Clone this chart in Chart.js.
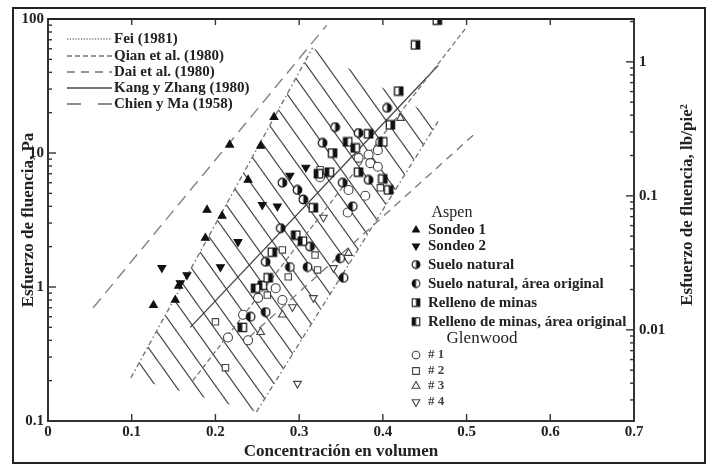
<!DOCTYPE html>
<html>
<head>
<meta charset="utf-8">
<script src="https://cdn.jsdelivr.net/npm/chart.js@4.4.1/dist/chart.umd.min.js"></script>
<style>
  body { margin: 0; background: #fff; }
  #wrap { width: 712px; height: 466px; }
</style>
</head>
<body>
<div id="wrap"><canvas id="myChart" width="712" height="466"></canvas></div>
<script>
// ---- ejes ----
const xTicks = [0, 0.1, 0.2, 0.3, 0.4, 0.5, 0.6, 0.7];
const yTicksPa = [0.1, 1, 10, 100];
const yTicksLb = [0.01, 0.1, 1];
const PA_PER_LB = 47.88;

// ---- Aspen ----
const sondeo1X = [0.126, 0.152, 0.156, 0.188, 0.190, 0.208, 0.217, 0.239, 0.254, 0.270];
const sondeo1Y = [0.73, 0.80, 1.02, 2.32, 3.76, 3.39, 11.5, 6.3, 11.3, 18.5];
const sondeo2X = [0.136, 0.158, 0.166, 0.206, 0.227, 0.256, 0.274, 0.289, 0.308];
const sondeo2Y = [1.39, 1.07, 1.23, 1.41, 2.17, 4.1, 4.0, 6.8, 7.8];
const sueloX = [0.343, 0.328, 0.371, 0.280, 0.298, 0.305, 0.352, 0.383, 0.278, 0.405, 0.260, 0.313];
const sueloY = [15.6, 11.9, 14.1, 6.0, 5.3, 4.5, 6.0, 6.3, 2.75, 21.7, 1.54, 2.0];
const sueloOrigX = [0.364, 0.289, 0.310, 0.260, 0.242, 0.349, 0.353];
const sueloOrigY = [4.0, 1.41, 1.41, 0.65, 0.60, 1.64, 1.17];
const rellenoX = [0.465, 0.439, 0.419, 0.409, 0.383, 0.340, 0.371, 0.400, 0.407, 0.317, 0.268, 0.263];
const rellenoY = [98, 64, 29, 16.2, 13.9, 10.0, 7.2, 6.4, 5.3, 3.9, 1.82, 1.17];
const rellenoOrigX = [0.400, 0.358, 0.367, 0.336, 0.296, 0.304, 0.256, 0.248, 0.232, 0.323];
const rellenoOrigY = [12.1, 12.1, 10.9, 7.2, 2.44, 2.2, 1.03, 0.98, 0.50, 7.0];

// ---- Glenwood ----
const glen1X = [0.233, 0.215, 0.239, 0.251, 0.272, 0.280, 0.371, 0.383, 0.394, 0.397, 0.385, 0.394, 0.359, 0.379, 0.358, 0.325];
const glen1Y = [0.62, 0.42, 0.40, 0.83, 0.98, 0.80, 9.2, 9.7, 10.5, 12.1, 8.4, 7.9, 5.3, 4.8, 3.6, 6.6];
const glen2X = [0.200, 0.212, 0.262, 0.287, 0.319, 0.322, 0.280, 0.325, 0.397];
const glen2Y = [0.55, 0.25, 0.87, 1.19, 1.73, 1.34, 1.89, 7.5, 5.5];
const glen3X = [0.254, 0.280, 0.359, 0.421];
const glen3Y = [0.46, 0.62, 1.79, 18.2];
const glen4X = [0.298, 0.292, 0.317, 0.341, 0.329];
const glen4Y = [0.19, 0.71, 0.83, 1.39, 3.3];

// ---- relaciones publicadas ----
const feiX = [0.099, 0.316];
const feiY = [0.21, 61];
const feiRightX = [0.249, 0.467];
const feiRightY = [0.117, 17.6];
const qianX = [0.173, 0.500];
const qianY = [0.20, 87];
const daiX = [0.240, 0.508];
const daiY = [0.42, 13.6];
const kangX = [0.170, 0.466];
const kangY = [0.50, 45];
const chienX = [0.054, 0.333];
const chienY = [0.70, 90];

// zona rayada
const hatchX = [0.099, 0.316, 0.467, 0.249];
const hatchY = [0.21, 61, 17.6, 0.117];

const FONT = '"Liberation Serif", "DejaVu Serif", serif';
const ctx = document.getElementById('myChart').getContext('2d');

const pts = (xs, ys) => xs.map((x, i) => ({ x: x, y: ys[i] }));

function halfMarker(shape, side) {
  const c = document.createElement('canvas');
  c.width = 11; c.height = 11;
  const g = c.getContext('2d');
  const path = () => {
    g.beginPath();
    if (shape === 'circle') g.arc(5.5, 5.5, 4.3, 0, Math.PI * 2);
    else g.rect(1.3, 1.3, 8.4, 8.4);
  };
  g.fillStyle = '#fff'; path(); g.fill();
  g.save(); path(); g.clip();
  g.fillStyle = '#111';
  if (side === 'right') g.fillRect(5.5, 0, 6, 11); else g.fillRect(0, 0, 5.5, 11);
  g.restore();
  g.strokeStyle = '#111'; g.lineWidth = 1.2; path(); g.stroke();
  return c;
}

function hatchPattern() {
  const c = document.createElement('canvas');
  c.width = 20; c.height = 28;
  const g = c.getContext('2d');
  g.strokeStyle = '#4a4a4a'; g.lineWidth = 1.3;
  g.beginPath();
  [-20, 0, 20].forEach(dx => { g.moveTo(dx, 0); g.lineTo(dx + 20, 28); });
  g.stroke();
  return ctx.createPattern(c, 'repeat');
}

function pointSet(label, xs, ys, style, fill, rot) {
  return {
    type: 'scatter', label: label, data: pts(xs, ys),
    pointStyle: style, pointRotation: rot || 0, pointRadius: 4.5,
    pointBackgroundColor: fill, pointBorderColor: fill === '#fff' ? '#444' : '#111',
    pointBorderWidth: 1.1, order: 0
  };
}
function lineSet(label, xs, ys, dash, color, width) {
  return {
    type: 'line', label: label, data: pts(xs, ys), borderColor: color,
    borderWidth: width, borderDash: dash, pointRadius: 0, fill: false, order: 5
  };
}

const lineSets = [
  lineSet('Fei (1981)', feiX, feiY, [5, 3, 1.5, 3], '#777', 1.4),
  lineSet('Qian et al. (1980)', qianX, qianY, [5, 3], '#777', 1.3),
  lineSet('Dai et al. (1980)', daiX, daiY, [8, 6], '#777', 1.3),
  lineSet('Kang y Zhang (1980)', kangX, kangY, [], '#444', 1.3),
  lineSet('Chien y Ma (1958)', chienX, chienY, [12, 7], '#888', 1.5)
];
const feiRight = lineSet('', feiRightX, feiRightY, [5, 3, 1.5, 3], '#777', 1.4);

const aspenSets = [
  pointSet('Sondeo 1', sondeo1X, sondeo1Y, 'triangle', '#111', 0),
  pointSet('Sondeo 2', sondeo2X, sondeo2Y, 'triangle', '#111', 180),
  pointSet('Suelo natural', sueloX, sueloY, halfMarker('circle', 'right'), '#111', 0),
  pointSet('Suelo natural, área original', sueloOrigX, sueloOrigY, halfMarker('circle', 'left'), '#111', 0),
  pointSet('Relleno de minas', rellenoX, rellenoY, halfMarker('rect', 'right'), '#111', 0),
  pointSet('Relleno de minas, área original', rellenoOrigX, rellenoOrigY, halfMarker('rect', 'left'), '#111', 0)
];
const glenSets = [
  pointSet('# 1', glen1X, glen1Y, 'circle', '#fff', 0),
  pointSet('# 2', glen2X, glen2Y, 'rect', '#fff', 0),
  pointSet('# 3', glen3X, glen3Y, 'triangle', '#fff', 0),
  pointSet('# 4', glen4X, glen4Y, 'triangle', '#fff', 180)
];

const hatchSet = {
  type: 'line', label: '', data: pts(hatchX.concat([hatchX[0]]), hatchY.concat([hatchY[0]])),
  borderWidth: 0, borderColor: 'rgba(0,0,0,0)', backgroundColor: hatchPattern(),
  fill: 'shape', pointRadius: 0, order: 10
};

function drawMarker(g, ds, x, y, r) {
  const st = ds.pointStyle;
  if (st instanceof HTMLCanvasElement) {
    g.drawImage(st, x - st.width / 2 + 0.5, y - st.height / 2, st.width - 1, st.height - 1);
    return;
  }
  g.save();
  g.translate(x, y);
  g.rotate((ds.pointRotation || 0) * Math.PI / 180);
  g.beginPath();
  if (st === 'triangle') {
    g.moveTo(0, -r); g.lineTo(0.866 * r, 0.5 * r); g.lineTo(-0.866 * r, 0.5 * r); g.closePath();
  } else if (st === 'rect') {
    g.rect(-r * 0.75, -r * 0.75, r * 1.5, r * 1.5);
  } else {
    g.arc(0, 0, r * 0.85, 0, Math.PI * 2);
  }
  g.fillStyle = ds.pointBackgroundColor; g.fill();
  g.strokeStyle = ds.pointBorderColor; g.lineWidth = 1.1; g.stroke();
  g.restore();
}

const framePlugin = {
  id: 'frame',
  afterDraw(chart) {
    const g = chart.ctx;
    const a = chart.chartArea;
    const sx = chart.scales.x, sy = chart.scales.y, sy2 = chart.scales.y2;
    const seg = (x1, y1, x2, y2) => { g.beginPath(); g.moveTo(x1, y1); g.lineTo(x2, y2); g.stroke(); };
    g.save();
    // marco exterior
    g.strokeStyle = '#222'; g.lineWidth = 2;
    g.strokeRect(13, 8, 692, 455);
    seg(a.left, a.top, a.right, a.top);
    // marcas
    g.strokeStyle = '#333'; g.lineWidth = 1.4;
    xTicks.slice(1, -1).forEach(v => {
      const px = sx.getPixelForValue(v);
      seg(px, a.bottom, px, a.bottom - 7);
      seg(px, a.top, px, a.top + 6);
    });
    [0.1, 1, 10].forEach(d => {
      for (let m = 1; m <= 9; m++) {
        const py = sy.getPixelForValue(d * m);
        seg(a.left, py, a.left + (m === 1 ? 8 : 4), py);
      }
    });
    [0.001, 0.01, 0.1, 1].forEach(d => {
      for (let m = 1; m <= 9; m++) {
        const v = d * m;
        if (v < sy2.min || v > sy2.max) continue;
        const py = sy2.getPixelForValue(v);
        seg(a.right, py, a.right - (m === 1 ? 8 : 4), py);
      }
    });
    // titulo derecho
    g.fillStyle = '#222';
    g.translate(688, 205);
    g.rotate(-Math.PI / 2);
    g.textAlign = 'center'; g.textBaseline = 'middle';
    g.font = 'bold 17px ' + FONT;
    g.fillText('Esfuerzo de fluencia, lb/pie²', 0, 0);
    g.setTransform(1, 0, 0, 1, 0, 0);

    // leyenda de lineas
    g.textAlign = 'left'; g.textBaseline = 'middle';
    g.font = 'bold 15px ' + FONT;
    const lineRows = [39, 56, 72, 88, 104];
    lineSets.forEach((ds, i) => {
      const y = lineRows[i];
      g.save();
      g.strokeStyle = ds.borderColor === '#888' ? '#666' : ds.borderColor;
      g.lineWidth = 1.3;
      g.setLineDash(i === 0 ? [1.2, 1.6] : (i === 4 ? [14, 17] : ds.borderDash));
      seg(67, y, 112, y);
      g.restore();
      g.fillStyle = '#222';
      g.fillText(ds.label, 114, y);
    });

    // leyenda de puntos
    g.fillStyle = '#222';
    g.textAlign = 'center';
    g.font = '16px ' + FONT;
    g.fillText('Aspen', 452, 213);
    g.font = '17px ' + FONT;
    g.fillText('Glenwood', 482, 339);
    g.textAlign = 'left';
    const aspenRows = [230, 246, 265, 284, 303, 322];
    aspenSets.forEach((ds, i) => {
      drawMarker(g, ds, 416, aspenRows[i], 4);
      g.fillStyle = '#222';
      g.font = 'bold 15px ' + FONT;
      g.fillText(ds.label, 428, aspenRows[i]);
    });
    const glenRows = [355, 371, 386, 402];
    glenSets.forEach((ds, i) => {
      drawMarker(g, ds, 416, glenRows[i], 4.5);
      g.fillStyle = '#444';
      g.font = 'bold 13px ' + FONT;
      g.fillText(ds.label, 428, glenRows[i]);
    });
    g.restore();
  }
};

const tickFont = { family: FONT, size: 15, weight: 'bold' };
const titleFont = { family: FONT, size: 17, weight: 'bold' };

new Chart(ctx, {
  type: 'scatter',
  data: {
    datasets: [...aspenSets, ...glenSets, ...lineSets, feiRight, hatchSet]
  },
  options: {
    responsive: false,
    animation: false,
    layout: { padding: { top: 19, left: 0, right: 0, bottom: 0 } },
    plugins: {
      legend: { display: false },
      tooltip: { enabled: false }
    },
    scales: {
      x: {
        type: 'linear', position: 'bottom', min: 0, max: 0.7,
        afterBuildTicks: s => { s.ticks = xTicks.map(v => ({ value: v })); },
        afterFit: s => { s.height = 45; },
        grid: { display: false, drawTicks: false },
        border: { display: true, color: '#333', width: 2 },
        ticks: { color: '#222', font: tickFont, padding: 2, callback: v => (v === 0 ? '0' : v.toFixed(1)) },
        title: { display: true, text: 'Concentración en volumen', color: '#222', font: titleFont, padding: { bottom: 4, top: 0 } }
      },
      y: {
        type: 'logarithmic', position: 'left', min: 0.1, max: 100,
        afterBuildTicks: s => { s.ticks = yTicksPa.map(v => ({ value: v })); },
        afterFit: s => { s.width = 48; },
        grid: { display: false, drawTicks: false },
        border: { display: true, color: '#333', width: 2 },
        ticks: { color: '#222', font: tickFont, padding: 4, callback: v => String(v) },
        title: { display: true, text: 'Esfuerzo de fluencia, Pa', color: '#222', font: titleFont, padding: { top: 18, bottom: 0 } }
      },
      y2: {
        type: 'logarithmic', position: 'right', min: 0.1 / PA_PER_LB, max: 100 / PA_PER_LB,
        afterBuildTicks: s => { s.ticks = yTicksLb.map(v => ({ value: v })); },
        afterFit: s => { s.width = 78; },
        grid: { display: false, drawTicks: false },
        border: { display: true, color: '#333', width: 2 },
        ticks: { color: '#222', font: tickFont, padding: 5, callback: v => String(v) }
      }
    }
  },
  plugins: [framePlugin]
});
</script>
</body>
</html>
